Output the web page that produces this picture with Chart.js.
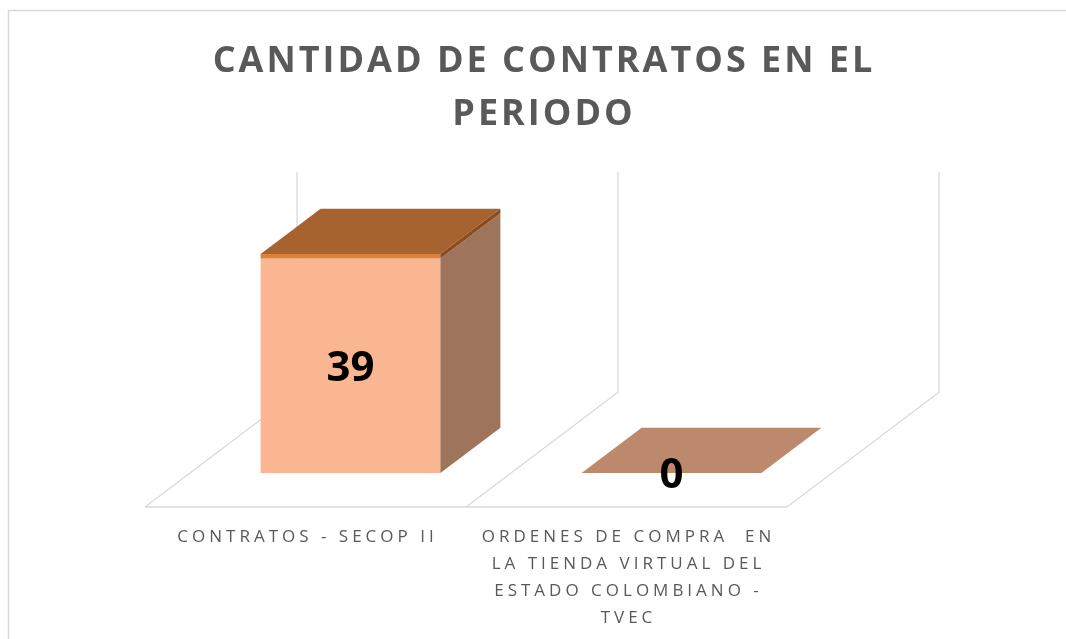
<!DOCTYPE html>
<html>
<head>
<meta charset="utf-8">
<script src="https://cdn.jsdelivr.net/npm/chart.js@4.4.1/dist/chart.umd.min.js"></script>
<style>
  html,body{margin:0;padding:0;background:#fff;}
  #wrap{width:1066px;height:639px;}
</style>
</head>
<body>
<div id="wrap"><canvas id="grafico" width="1066" height="639"></canvas></div>
<script>
// datos del gráfico
const categorias = ['CONTRATOS - SECOP II', 'ORDENES DE COMPRA  EN LA TIENDA VIRTUAL DEL ESTADO COLOMBIANO - TVEC'];
const etiquetasEje = [
  ['CONTRATOS - SECOP II'],
  ['ORDENES DE COMPRA  EN', 'LA TIENDA VIRTUAL DEL', 'ESTADO COLOMBIANO -', 'TVEC']
];
const cantidades = [39, 0];
const titulo = ['CANTIDAD DE CONTRATOS EN EL', 'PERIODO'];
const ejeMin = 0, ejeMax = 40;

// colores
const cFrente = '#F9B690', cLado = '#9E745A', cTapa = '#A6632F', cFranja = '#DE7F3A';
const cArista = '#8A4B1F', cTapaCero = '#BD896D', cGrilla = '#D9D9D9', cTexto = '#595959';

// perspectiva oblicua: dx por unidad de profundidad, dy = -0.755*dx
const K = 0.755;
const profBarra = 60, profFrente = -45, profFondo = 107;

function poly(ctx, pts, fill){
  ctx.beginPath();
  ctx.moveTo(pts[0][0], pts[0][1]);
  for (let i=1;i<pts.length;i++) ctx.lineTo(pts[i][0], pts[i][1]);
  ctx.closePath();
  ctx.fillStyle = fill;
  ctx.fill();
}

const escena3D = {
  id:'escena3D',
  beforeDatasetsDraw(chart){
    const ctx = chart.ctx, a = chart.chartArea, xs = chart.scales.x;
    ctx.save();
    // borde exterior
    ctx.strokeStyle = cGrilla; ctx.lineWidth = 1.5;
    ctx.beginPath(); ctx.moveTo(8.5, 639); ctx.lineTo(8.5, 10.5); ctx.lineTo(1066, 10.5); ctx.stroke();
    // límites entre categorías
    const paso = xs.getPixelForValue(1) - xs.getPixelForValue(0);
    const bordes = [];
    for (let i=0;i<=categorias.length;i++) bordes.push(xs.getPixelForValue(0) - paso/2 + i*paso);
    const fx = d => d, fy = d => -K*d;
    ctx.lineWidth = 1.3;
    ctx.beginPath();
    // borde frontal del piso
    ctx.moveTo(bordes[0]+fx(profFrente), a.bottom+fy(profFrente));
    ctx.lineTo(bordes[bordes.length-1]+fx(profFrente), a.bottom+fy(profFrente));
    bordes.forEach(b => {
      ctx.moveTo(b+fx(profFrente), a.bottom+fy(profFrente));
      ctx.lineTo(b+fx(profFondo), a.bottom+fy(profFondo));
      ctx.lineTo(b+fx(profFondo), a.top+fy(profFondo));
    });
    ctx.stroke();
    ctx.restore();
  },
  afterDatasetsDraw(chart){
    const ctx = chart.ctx, a = chart.chartArea, xs = chart.scales.x;
    const meta = chart.getDatasetMeta(0);
    const dx = profBarra, dy = -K*profBarra;
    ctx.save();
    meta.data.forEach((bar, i) => {
      const l = bar.x - bar.width/2, r = bar.x + bar.width/2, t = bar.y, b = bar.base;
      if (cantidades[i] > 0) {
        const bev = 4.5;
        // cara lateral
        poly(ctx, [[r,t],[r+dx,t+dy],[r+dx,b+dy],[r,b]], cLado);
        // tapa
        poly(ctx, [[l,t-bev],[l+dx,t-bev+dy],[r+dx,t-bev+dy],[r,t-bev]], cTapa);
        // franja frontal
        poly(ctx, [[l,t-bev],[r,t-bev],[r,t],[l,t]], cFranja);
        // arista oscura
        poly(ctx, [[r,t-bev],[r+dx,t-bev+dy],[r+dx,t+dy],[r,t]], cArista);
      } else {
        poly(ctx, [[l,b],[l+dx,b+dy],[r+dx,b+dy],[r,b]], cTapaCero);
      }
      // etiqueta de valor
      ctx.fillStyle = '#000';
      ctx.font = 'bold 42px "Open Sans"';
      ctx.textAlign = 'center'; ctx.textBaseline = 'middle';
      const yv = cantidades[i] > 0 ? (t + b)/2 + 3 : b + 3;
      ctx.fillText(String(cantidades[i]), bar.x, yv);
    });

    // etiquetas de categoría (en el borde frontal del piso)
    ctx.fillStyle = cTexto;
    ctx.font = '17px "Open Sans"';
    ctx.letterSpacing = '4px';
    ctx.textAlign = 'center'; ctx.textBaseline = 'alphabetic';
    etiquetasEje.forEach((lineas, i) => {
      const x = xs.getPixelForValue(i) + profFrente + 2;
      lineas.forEach((txt, j) => ctx.fillText(txt, x, 542 + j*27));
    });

    // título
    ctx.font = 'bold 36px "Open Sans"';
    ctx.letterSpacing = '3px';
    titulo.forEach((txt, j) => ctx.fillText(txt, 544, 72 + j*53));
    ctx.restore();
  }
};

new Chart(document.getElementById('grafico'), {
  type:'bar',
  data:{
    labels: categorias,
    datasets:[{
      data: cantidades,
      backgroundColor: cFrente,
      borderWidth: 0,
      barPercentage: 0.56,
      categoryPercentage: 1.0
    }]
  },
  options:{
    responsive:false,
    animation:false,
    devicePixelRatio:1,
    layout:{padding:{left:190, right:234, top:253, bottom:166}},
    plugins:{legend:{display:false}, tooltip:{enabled:false}, title:{display:false}},
    scales:{
      x:{display:false, grid:{display:false}},
      y:{display:false, min:ejeMin, max:ejeMax, grid:{display:false}}
    }
  },
  plugins:[escena3D]
});
</script>
</body>
</html>
